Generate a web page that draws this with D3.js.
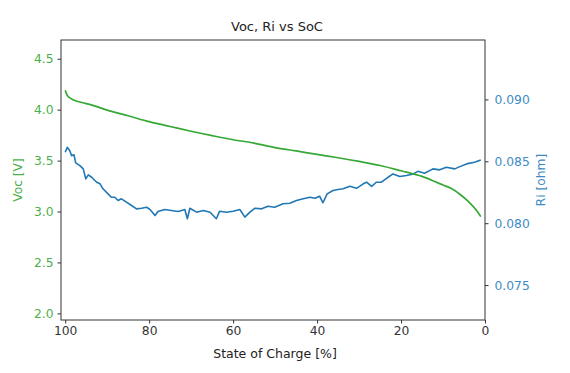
<!DOCTYPE html>
<html>
<head>
<meta charset="utf-8">
<script src="https://cdn.jsdelivr.net/npm/d3@7"></script>
<style>
  body { margin: 0; background: #fff; }
  text { font-family: "DejaVu Sans", sans-serif; }
</style>
</head>
<body>
<script>
// open circuit voltage vs state of charge
const vocSoc = [100, 99.5, 98, 96, 94, 90, 85, 80, 75, 70, 65, 60, 55, 50, 45, 40, 35, 30, 25, 20, 15, 12, 10, 8, 6, 4, 2, 1];
const vocVal = [4.19, 4.14, 4.095, 4.07, 4.05, 3.995, 3.94, 3.882, 3.835, 3.788, 3.745, 3.705, 3.672, 3.628, 3.595, 3.561, 3.528, 3.492, 3.452, 3.400, 3.345, 3.295, 3.26, 3.225, 3.17, 3.10, 3.01, 2.95];

// internal resistance vs state of charge
const riSoc = [100, 99.5, 98.9, 98.5, 97.9, 97.5, 96.5, 95.7, 95.1, 94.5, 93.7, 92.5, 91.7, 91.0, 89.8, 89.0, 88.2, 87.4, 86.6, 85.4,
  84.2, 83.0, 81.8, 80.6, 79.8, 78.6, 77.9, 76.3, 74.7, 73.1, 71.5, 70.9, 70.3, 68.7, 67.1, 65.5, 64.0, 63.2, 61.6, 60.0,
  58.4, 57.2, 56.0, 54.8, 53.2, 51.7, 50.1, 48.1, 46.5, 44.9, 43.3, 41.7, 40.5, 39.4, 38.6, 37.6, 36.2, 35.0, 33.8, 32.2,
  30.6, 29.0, 28.2, 27.0, 25.9, 24.7, 23.1, 21.9, 20.3, 18.7, 17.1, 16.0, 14.4, 12.4, 10.8, 9.2, 7.2, 6.0, 4.4, 2.5, 1.0];
const riVal = [0.08573, 0.08613, 0.08586, 0.08546, 0.08552, 0.08487, 0.08465, 0.08439, 0.08358, 0.08390, 0.08371, 0.08331, 0.08318, 0.08278, 0.08237, 0.08210, 0.08210, 0.08183, 0.08197, 0.08170,
  0.08143, 0.08116, 0.08121, 0.08129, 0.08111, 0.08062, 0.08095, 0.08111, 0.08103, 0.08095, 0.08111, 0.08036, 0.08121, 0.08089, 0.08103, 0.08089, 0.08036, 0.08097, 0.08089, 0.08097,
  0.08111, 0.08049, 0.08089, 0.08121, 0.08116, 0.08137, 0.08129, 0.08157, 0.08161, 0.08183, 0.08197, 0.08210, 0.08202, 0.08218, 0.08165, 0.08237, 0.08264, 0.08272, 0.08278, 0.08298,
  0.08282, 0.08318, 0.08331, 0.08298, 0.08331, 0.08331, 0.08371, 0.08398, 0.08377, 0.08385, 0.08398, 0.08419, 0.08403, 0.08439, 0.08431, 0.08452, 0.08439, 0.08457, 0.08479, 0.08492, 0.08511];

const xTicks = [100, 80, 60, 40, 20, 0];
const vTicks = [2.0, 2.5, 3.0, 3.5, 4.0, 4.5];
const rTicks = [0.075, 0.080, 0.085, 0.090];

const green = "#36a836", blue = "#1f77b4";
const greenText = "#4bb04b", blueText = "#3d8ac4";

let w = 570, h = 373;
let mLeft = 61, mRight = 485, mTop = 40, mBottom = 320;

let svg = d3.select("body").append("svg")
    .attr("width", w)
    .attr("height", h);

let x = d3.scaleLinear().domain([101, 0]).range([mLeft, mRight]);
let yV = d3.scaleLinear().domain([1.935, 4.684]).range([mBottom, mTop]);
let yR = d3.scaleLinear().domain([0.07218, 0.0948]).range([mBottom, mTop]);

// lines
let vocLine = d3.line()
    .x(function (d, i) { return x(vocSoc[i]); })
    .y(function (d) { return yV(d); })
    .curve(d3.curveMonotoneX);

let riLine = d3.line()
    .x(function (d, i) { return x(riSoc[i]); })
    .y(function (d) { return yR(d); });

svg.append("path")
    .attr("d", riLine(riVal))
    .attr("fill", "none")
    .attr("stroke", blue)
    .attr("stroke-width", 1.6)
    .attr("stroke-linejoin", "round");

svg.append("path")
    .attr("d", vocLine(vocVal))
    .attr("fill", "none")
    .attr("stroke", green)
    .attr("stroke-width", 1.7);

// axes
let xAxis = svg.append("g")
    .attr("transform", "translate(0," + mBottom + ")")
    .call(d3.axisBottom(x).tickValues(xTicks).tickFormat(d3.format("d")).tickSize(3.5).tickPadding(3));

let leftAxis = svg.append("g")
    .attr("transform", "translate(" + mLeft + ",0)")
    .call(d3.axisLeft(yV).tickValues(vTicks).tickFormat(d3.format(".1f")).tickSize(3.5).tickPadding(4));

let rightAxis = svg.append("g")
    .attr("transform", "translate(" + mRight + ",0)")
    .call(d3.axisRight(yR).tickValues(rTicks).tickFormat(d3.format(".3f")).tickSize(3.5).tickPadding(6));

svg.selectAll(".domain").remove();
svg.selectAll(".tick line").attr("stroke", "#333");
svg.selectAll(".tick text").attr("font-size", 12.3).attr("font-family", "DejaVu Sans, sans-serif");
xAxis.selectAll(".tick text").attr("fill", "#333");
leftAxis.selectAll(".tick text").attr("fill", greenText);
rightAxis.selectAll(".tick text").attr("fill", blueText);

// frame
svg.append("rect")
    .attr("x", mLeft)
    .attr("y", mTop)
    .attr("width", mRight - mLeft)
    .attr("height", mBottom - mTop)
    .attr("fill", "none")
    .attr("stroke", "#333")
    .attr("stroke-width", 1);

// labels
svg.append("text")
    .attr("x", 277)
    .attr("y", 31)
    .attr("text-anchor", "middle")
    .attr("font-size", 13)
    .attr("fill", "#222")
    .text("Voc, Ri vs SoC");

svg.append("text")
    .attr("x", 275)
    .attr("y", 358)
    .attr("text-anchor", "middle")
    .attr("font-size", 12.5)
    .attr("fill", "#222")
    .text("State of Charge [%]");

svg.append("text")
    .attr("transform", "translate(22," + (mTop + mBottom) / 2 + ") rotate(-90)")
    .attr("text-anchor", "middle")
    .attr("font-size", 12.3)
    .attr("fill", greenText)
    .text("Voc [V]");

svg.append("text")
    .attr("transform", "translate(545," + (mTop + mBottom) / 2 + ") rotate(-90)")
    .attr("text-anchor", "middle")
    .attr("font-size", 12.3)
    .attr("fill", blueText)
    .text("Ri [ohm]");
</script>
</body>
</html>
